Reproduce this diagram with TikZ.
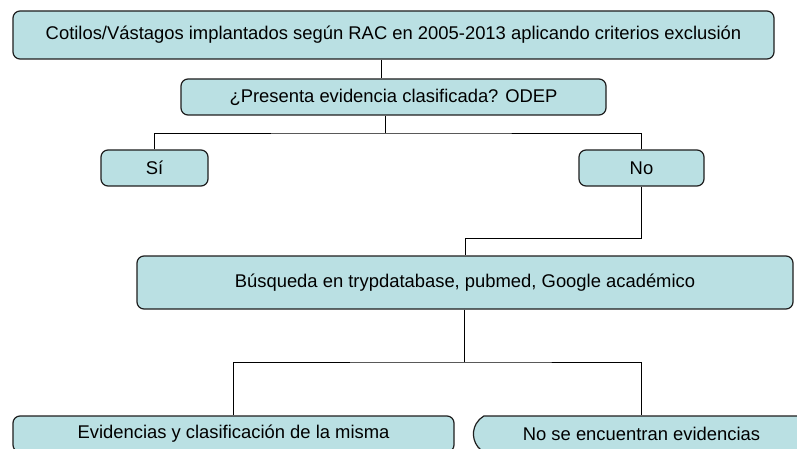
\documentclass[tikz,border=0pt]{standalone}
\usepackage{fontspec}
\setmainfont{Liberation Sans}
\usetikzlibrary{shapes.misc}
\definecolor{boxfill}{RGB}{186,224,227}
\definecolor{boxline}{RGB}{30,30,30}
\begin{document}
\begin{tikzpicture}[x=1pt,y=-1pt,
  flowbox/.style={draw=boxline,fill=boxfill,line width=1.2pt,rounded corners=7pt,
    inner sep=0pt,font=\fontsize{18.4pt}{21pt}\selectfont,anchor=center},
  conn/.style={draw=black,line width=0.9pt}]
\clip (0,0) rectangle (797,449);
\useasboundingbox (0,0) rectangle (797,449);
\fill[white] (0,0) rectangle (797,449);
\node[flowbox,minimum width=761pt,minimum height=48pt] (top) at (393.5,35)
  {Cotilos/Vástagos implantados según RAC en 2005-2013 aplicando criterios exclusión};
\node[flowbox,minimum width=425pt,minimum height=36pt] (q) at (393.5,97)
  {¿Presenta evidencia clasificada? ODEP};
\node[flowbox,minimum width=107pt,minimum height=36pt] (si) at (154.5,168) {Sí};
\node[flowbox,minimum width=125pt,minimum height=36pt] (no) at (641.5,168) {No};
\node[flowbox,minimum width=656pt,minimum height=53pt] (bus) at (465,282.5)
  {Búsqueda en trypdatabase, pubmed, Google académico};
\node[flowbox,minimum width=441pt,minimum height=36pt] (ev) at (233.5,434)
  {Evidencias y clasificación de la misma};
\node[flowbox,rounded corners=0pt,rounded rectangle,rounded rectangle arc length=120,
  rounded rectangle right arc=none,minimum width=335pt,minimum height=36pt] (ne) at (641.5,434)
  {No se encuentran evidencias};
\coordinate (j1) at (385,133);
\coordinate (j2) at (465,238);
\coordinate (j3) at (464,362);
\draw[conn] ([xshift=-12.5pt]top.south) -- ([xshift=-12.5pt]q.north);
\draw[conn] ([xshift=-8.5pt]q.south) -- (j1);
\draw[conn] (si.north) |- (j1) -| (no.north);
\draw[conn] (no.south) |- (j2) -| (bus.north);
\draw[conn] ([xshift=-1pt]bus.south) -- (j3);
\draw[conn] (ev.north) |- (j3) -| (ne.north);
\end{tikzpicture}
\end{document}
